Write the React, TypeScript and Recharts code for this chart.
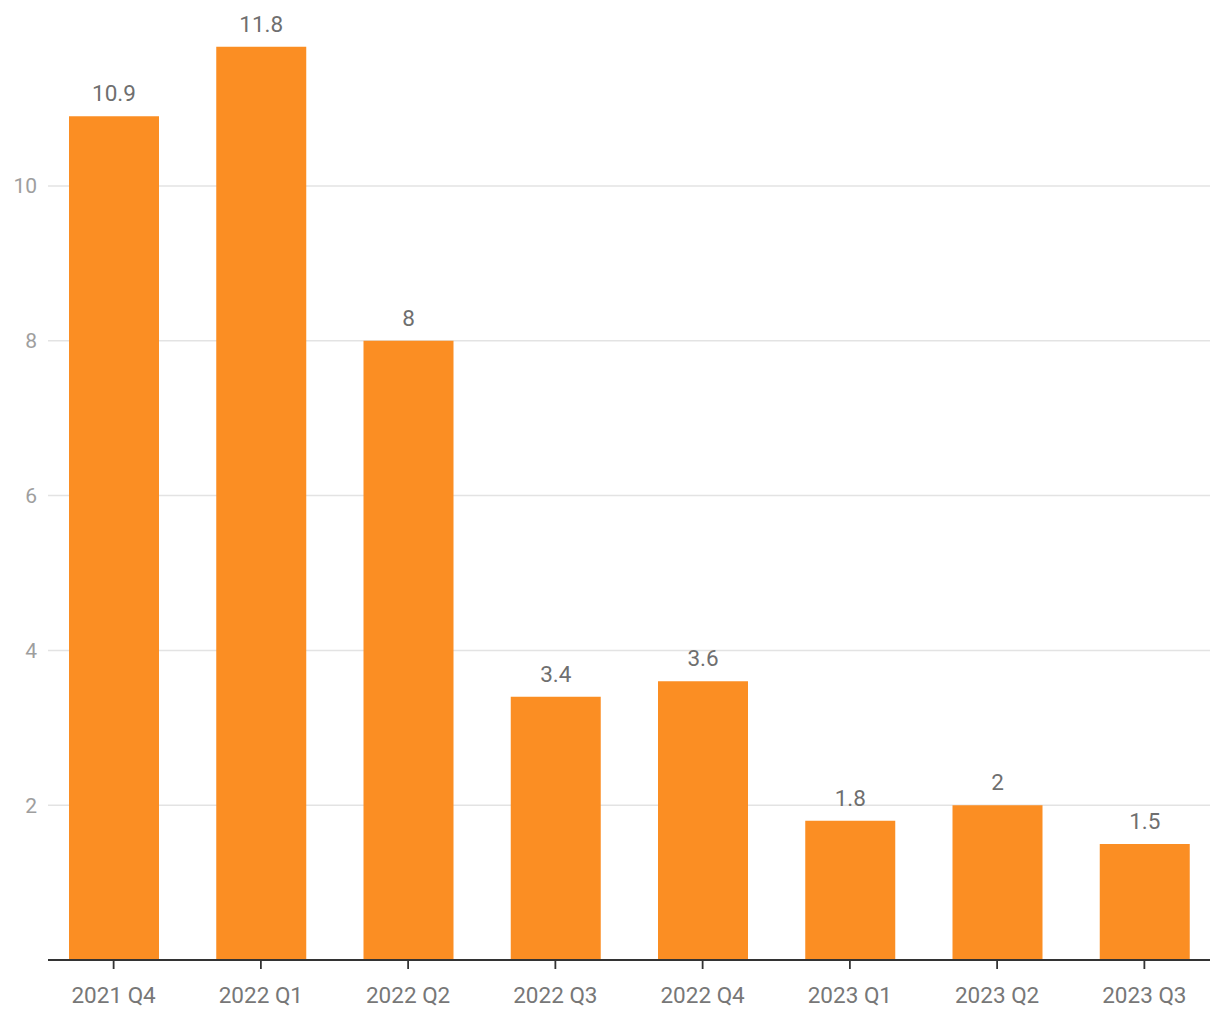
import { BarChart, Bar, XAxis, YAxis, CartesianGrid, LabelList } from "recharts";

const quarters = ["2021 Q4", "2022 Q1", "2022 Q2", "2022 Q3", "2022 Q4", "2023 Q1", "2023 Q2", "2023 Q3"];
const values = [10.9, 11.8, 8, 3.4, 3.6, 1.8, 2, 1.5];
const yTicks = [2, 4, 6, 8, 10];

const data = quarters.map((q, i) => ({ name: q, value: values[i] }));

export default function App() {
  return (
    <div style={{ fontFamily: "Roboto, sans-serif" }}>
      <BarChart
        width={1212}
        height={1012}
        data={data}
        margin={{ top: 23.2, right: 10, left: 0, bottom: 20 }}
      >
        <CartesianGrid
          horizontal
          vertical={false}
          horizontalValues={yTicks}
          stroke="#e3e3e3"
          strokeWidth={1.5}
        />
        <XAxis
          dataKey="name"
          padding={{ left: -8, right: -8 }}
          axisLine={{ stroke: "#333333", strokeWidth: 1.8 }}
          tickLine={{ stroke: "#333333", strokeWidth: 1.8 }}
          tickSize={9}
          tickMargin={18}
          height={40}
          tick={{ fill: "#777777", fontSize: 22.5 }}
          interval={0}
        />
        <YAxis
          domain={[0, 12]}
          ticks={yTicks}
          width={40}
          axisLine={false}
          tickLine={false}
          tickMargin={5}
          tick={{ fill: "#9e9e9e", fontSize: 21 }}
        />
        <Bar dataKey="value" fill="#FB8E23" barSize={90} isAnimationActive={false}>
          <LabelList dataKey="value" position="top" offset={15} fill="#6f6f6f" fontSize={22.5} />
        </Bar>
      </BarChart>
    </div>
  );
}
